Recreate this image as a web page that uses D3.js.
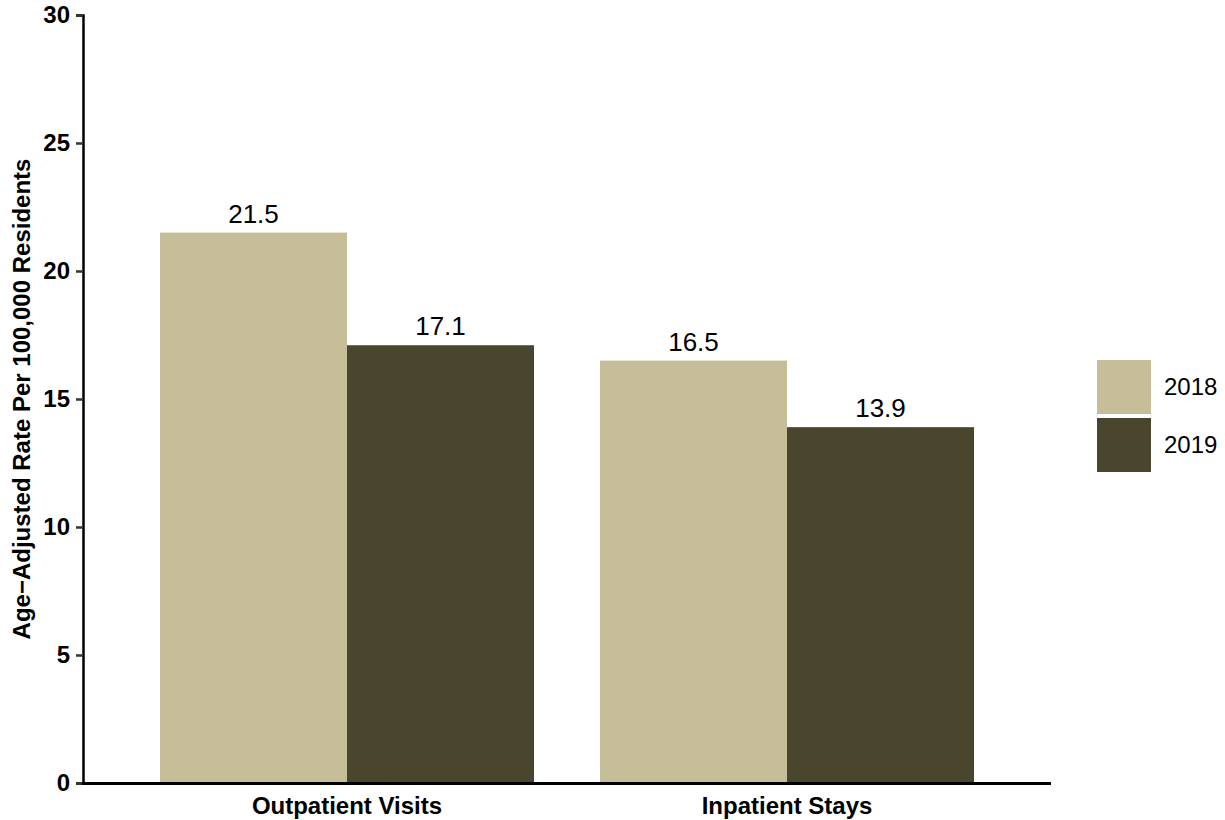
<!DOCTYPE html>
<html><head><meta charset="utf-8">
<script src="https://cdn.jsdelivr.net/npm/d3@7"></script>
<style>body{margin:0;background:#fff;} text{font-family:"Liberation Sans",Arial,sans-serif;}</style>
</head><body><svg id="c" width="1225" height="820"></svg>
<script>
const categories = ["Outpatient Visits", "Inpatient Stays"];
const years = ["2018", "2019"];
const values2018 = [21.5, 16.5];
const values2019 = [17.1, 13.9];
const yTicks = [0, 5, 10, 15, 20, 25, 30];
const colors = ["#C5BE98", "#4A452D"];

const svg = d3.select("#c");
const y = d3.scaleLinear().domain([0, 30]).range([783, 15]);
const x0 = d3.scaleBand().domain(categories).range([94, 1040]).paddingInner(0.15).paddingOuter(0.15);
const x1 = d3.scaleBand().domain(years).range([0, x0.bandwidth()]);
const series = [values2018, values2019];

// bars
years.forEach((yr, si) => {
  const g = svg.append("g");
  g.selectAll("rect").data(categories).join("rect")
    .attr("x", c => x0(c) + x1(yr))
    .attr("y", (c, i) => y(series[si][i]))
    .attr("width", x1.bandwidth())
    .attr("height", (c, i) => y(0) - y(series[si][i]))
    .attr("fill", colors[si]);
  g.selectAll("text").data(categories).join("text")
    .attr("x", c => x0(c) + x1(yr) + x1.bandwidth() / 2)
    .attr("y", (c, i) => y(series[si][i]) - 10)
    .attr("text-anchor", "middle")
    .attr("font-size", 26)
    .attr("fill", "#000")
    .text((c, i) => series[si][i].toFixed(1));
});

// y axis
const ya = svg.append("g").attr("transform", "translate(83,0)")
  .call(d3.axisLeft(y).tickValues(yTicks).tickSize(7).tickPadding(6).tickFormat(d3.format("d")));
ya.select(".domain").attr("stroke", "#000").attr("stroke-width", 2.5);
ya.selectAll(".tick line").attr("stroke", "#333").attr("stroke-width", 2.5);
ya.selectAll(".tick text").attr("font-size", 24).attr("font-weight", "bold").attr("fill", "#000")
  .style("font-family", '"Liberation Sans",Arial,sans-serif');

// x axis
const xa = svg.append("g").attr("transform", "translate(0,783)")
  .call(d3.axisBottom(x0).tickSize(0).tickPadding(14));
xa.select(".domain").remove();
svg.append("line").attr("x1", 82).attr("x2", 1051).attr("y1", 783.5).attr("y2", 783.5)
  .attr("stroke", "#000").attr("stroke-width", 3);
xa.selectAll(".tick text").attr("font-size", 24).attr("font-weight", "bold").attr("fill", "#000")
  .style("font-family", '"Liberation Sans",Arial,sans-serif');

// y title
svg.append("text").attr("transform", "translate(30,399) rotate(-90)")
  .attr("text-anchor", "middle").attr("font-size", 24).attr("font-weight", "bold")
  .text("Age\u2212Adjusted Rate Per 100,000 Residents");

// legend
const lg = svg.append("g");
years.forEach((yr, i) => {
  lg.append("rect").attr("x", 1097).attr("y", 360 + i * 58).attr("width", 54).attr("height", 54).attr("fill", colors[i]);
  lg.append("text").attr("x", 1164).attr("y", 387 + i * 58).attr("dy", "0.35em").attr("font-size", 24).text(yr);
});
</script></body></html>
